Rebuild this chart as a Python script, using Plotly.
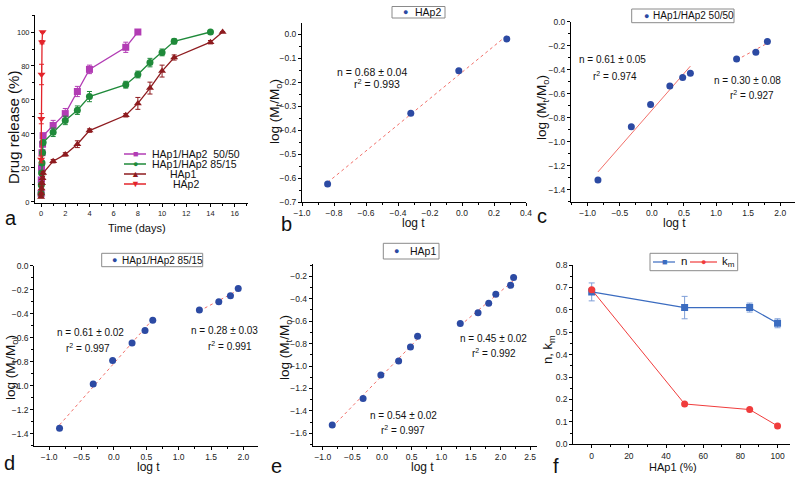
import numpy as np
import plotly.graph_objects as go

W, H = 800, 477

# ---------------- data ----------------
# panel a: drug release (%) vs time (days)
t_5050 = [0.006, 0.02, 0.04, 0.08, 0.125, 0.17, 1, 2, 3, 4, 7, 8]
r_5050 = [5, 13, 20, 29, 34, 39, 45, 52, 65, 78, 91, 100]
e_5050 = [1, 1, 1.5, 1.5, 1.5, 1.5, 3, 3, 3, 2.5, 3, 0]

t_8515 = [0.006, 0.02, 0.04, 0.08, 0.125, 0.17, 1, 2, 3, 4, 7, 8, 9, 10, 11, 14]
r_8515 = [5, 10, 17, 23, 29, 35, 41, 48, 54, 62, 69, 75, 82, 88, 94.5, 100]
e_8515 = [1, 1, 1, 1.5, 1.5, 1.5, 2.5, 2.5, 2.5, 3, 2, 2, 2.5, 2, 1.5, 0]

t_hap1 = [0.006, 0.02, 0.04, 0.08, 0.125, 0.17, 1, 2, 3, 4, 7, 8, 9, 10, 11, 14, 15]
r_hap1 = [3, 5, 8, 11, 14, 17, 24, 28, 34, 42, 51, 58, 67, 77, 85, 94, 100]
e_hap1 = [0.5, 0.5, 1, 1, 1, 1, 1, 1, 2, 1, 1, 3.5, 3.5, 3.5, 1.5, 1, 0]

t_hap2 = [0.006, 0.02, 0.04, 0.08, 0.125]
r_hap2 = [25, 49, 75, 94, 100]
e_hap2 = [2, 3, 6, 1, 0]

# panel b: HAp2
b_logt = [-0.84, -0.32, -0.02, 0.28]
b_logm = [-0.625, -0.33, -0.152, -0.02]

# panel c: HAp1/HAp2 50/50 (two regimes)
c_logt1 = [-0.84, -0.32, -0.02, 0.28, 0.48, 0.60]
c_logm1 = [-1.32, -0.875, -0.69, -0.535, -0.465, -0.43]
c_logt2 = [1.32, 1.62, 1.80]
c_logm2 = [-0.31, -0.255, -0.165]

# panel d: HAp1/HAp2 85/15
d_logt1 = [-0.84, -0.32, -0.02, 0.28, 0.48, 0.60]
d_logm1 = [-1.355, -0.985, -0.79, -0.645, -0.54, -0.455]
d_logt2 = [1.32, 1.62, 1.80, 1.92]
d_logm2 = [-0.37, -0.30, -0.25, -0.19]

# panel e: HAp1
e_logt1 = [-0.84, -0.32, -0.02, 0.28, 0.48, 0.60]
e_logm1 = [-1.525, -1.29, -1.08, -0.955, -0.83, -0.735]
e_logt2 = [1.32, 1.62, 1.80, 1.92, 2.17, 2.22]
e_logm2 = [-0.62, -0.525, -0.44, -0.36, -0.28, -0.21]

# panel f: n and km vs HAp1 content
f_hap1 = [0, 50, 85, 100]
f_n = [0.68, 0.61, 0.61, 0.54]
f_n_err = [0.04, 0.05, 0.02, 0.02]
f_km = [0.69, 0.18, 0.155, 0.082]

# ---------------- styling ----------------
FONT = "Liberation Sans, Arial, sans-serif"
C_5050 = "#b23cb4"
C_8515 = "#1f8a3a"
C_HAP1 = "#8e1b1f"
C_HAP2 = "#e3242b"
C_DOT = "#2c4aa3"
C_FIT = "#f2706a"
C_N = "#3b6cc0"
C_KM = "#f03c3c"


def px_dom_x(x0, x1):
    return [x0 / W, x1 / W]


def px_dom_y(ytop, ybot):
    return [1 - ybot / H, 1 - ytop / H]


def fit_line(x, y):
    k, b0 = np.polyfit(x, y, 1)
    xs = np.array([min(x), max(x)])
    return xs, k * xs + b0


fig = go.Figure()

# ---- panel a ----
for t, r, e, col, sym, name in [
    (t_5050, r_5050, e_5050, C_5050, "square", "HAp1/HAp2 50/50"),
    (t_8515, r_8515, e_8515, C_8515, "circle", "HAp1/HAp2 85/15"),
    (t_hap1, r_hap1, e_hap1, C_HAP1, "triangle-up", "HAp1"),
    (t_hap2, r_hap2, e_hap2, C_HAP2, "triangle-down", "HAp2"),
]:
    fig.add_trace(go.Scatter(
        x=t, y=r, mode="lines+markers", name=name, showlegend=False,
        line=dict(color=col, width=1.3),
        marker=dict(symbol=sym, size=7, color=col),
        error_y=dict(type="data", array=e, color=col, thickness=1, width=2.5),
        xaxis="x", yaxis="y"))

# ---- panels b-e ----
def add_korsmeyer(panel, segs, legend_name, solid_first=False):
    xa = "x" + str(panel)
    ya = "y" + str(panel)
    for i, (xs, ys) in enumerate(segs):
        fx, fy = fit_line(xs, ys)
        dash = "solid" if (solid_first and i == 0) else "dot"
        fig.add_trace(go.Scatter(
            x=fx, y=fy, mode="lines", showlegend=False, hoverinfo="skip",
            line=dict(color=C_FIT, width=1, dash=dash), xaxis=xa, yaxis=ya))
    allx = [v for s in segs for v in s[0]]
    ally = [v for s in segs for v in s[1]]
    fig.add_trace(go.Scatter(
        x=allx, y=ally, mode="markers", name=legend_name, showlegend=False,
        marker=dict(symbol="circle", size=7, color=C_DOT), xaxis=xa, yaxis=ya))

add_korsmeyer(2, [(b_logt, b_logm)], "HAp2")
add_korsmeyer(3, [(c_logt1, c_logm1), (c_logt2, c_logm2)], "HAp1/HAp2 50/50", solid_first=True)
add_korsmeyer(4, [(d_logt1, d_logm1), (d_logt2, d_logm2)], "HAp1/HAp2 85/15")
add_korsmeyer(5, [(e_logt1, e_logm1), (e_logt2, e_logm2)], "HAp1")

# ---- panel f ----
fig.add_trace(go.Scatter(
    x=f_hap1, y=f_n, mode="lines+markers", name="n", showlegend=False,
    line=dict(color=C_N, width=1.2), marker=dict(symbol="square", size=7, color=C_N),
    error_y=dict(type="data", array=f_n_err, color="#7f9fd8", thickness=1, width=3),
    xaxis="x6", yaxis="y6"))
fig.add_trace(go.Scatter(
    x=f_hap1, y=f_km, mode="lines+markers", name="k<sub>m</sub>", showlegend=False,
    line=dict(color=C_KM, width=1), marker=dict(symbol="circle", size=7, color=C_KM),
    xaxis="x6", yaxis="y6"))

# ---------------- axes ----------------
def ax(domain, rng, dtick, minor_dtick, anchor, tickfmt=None, fs=8.5):
    d = dict(domain=domain, range=rng, dtick=dtick, tick0=0, anchor=anchor,
             showline=True, linecolor="black", linewidth=1, mirror=False,
             ticks="outside", ticklen=3, tickwidth=1, tickcolor="black",
             showgrid=False, zeroline=False, automargin=False,
             tickfont=dict(family=FONT, size=fs, color="#222"),
             minor=dict(dtick=minor_dtick, tick0=0, ticks="outside", ticklen=2,
                        tickcolor="black", showgrid=False))
    if tickfmt:
        d["tickformat"] = tickfmt
    return d

lay = {}
lay["xaxis"] = ax(px_dom_x(35, 248), [-0.5, 17.1], 2, 1, "y", fs=7.5)
lay["yaxis"] = ax(px_dom_y(15, 203), [-0.6, 110], 20, 10, "x", fs=7.5)
lay["yaxis"]["tickvals"] = [0, 20, 40, 60, 80, 100]
lay["xaxis2"] = ax(px_dom_x(302, 526), [-1.0, 0.4], 0.2, 0.1, "y2", ".1f")
lay["yaxis2"] = ax(px_dom_y(23, 202), [-0.7, 0.047], 0.1, 0.05, "x2", ".1f")
lay["yaxis2"]["tickvals"] = [round(-0.1 * i, 1) for i in range(8)]
lay["xaxis3"] = ax(px_dom_x(571, 795), [-1.26, 2.23], 0.5, 0.25, "y3", ".1f")
lay["yaxis3"] = ax(px_dom_y(21.7, 201.7), [-1.5, 0.0], 0.2, 0.1, "x3", ".1f")
lay["xaxis4"] = ax(px_dom_x(34.3, 258.3), [-1.23, 2.23], 0.5, 0.25, "y4", ".1f")
lay["yaxis4"] = ax(px_dom_y(265.7, 445.7), [-1.5, 0.0], 0.2, 0.1, "x4", ".1f")
lay["xaxis5"] = ax(px_dom_x(312.7, 536.7), [-1.17, 2.61], 0.5, 0.25, "y5", ".1f")
lay["yaxis5"] = ax(px_dom_y(264.3, 445.7), [-1.71, -0.093], 0.2, 0.1, "x5", ".1f")
lay["xaxis6"] = ax(px_dom_x(573.3, 790), [-9.9, 106.7], 20, 10, "y6")
lay["yaxis6"] = ax(px_dom_y(265, 444.3), [0, 0.8], 0.1, 0.05, "x6", ".1f")

# ---------------- annotations / legends ----------------
ann = []
shapes = []


def txt(x, y, s, size=10, anchor="center", color="#111", angle=0):
    ann.append(dict(x=x / W, y=1 - y / H, xref="paper", yref="paper", text=s,
                    showarrow=False, xanchor=anchor, yanchor="middle",
                    textangle=angle,
                    font=dict(family=FONT, size=size, color=color)))


def hline(x0, x1, y, col, w=1.3):
    shapes.append(dict(type="line", xref="paper", yref="paper",
                       x0=x0 / W, x1=x1 / W, y0=1 - y / H, y1=1 - y / H,
                       line=dict(color=col, width=w)))


def box(x0, x1, y0, y1):
    shapes.append(dict(type="rect", xref="paper", yref="paper",
                       x0=x0 / W, x1=x1 / W, y0=1 - y1 / H, y1=1 - y0 / H,
                       line=dict(color="#8a8a8a", width=1), fillcolor="white",
                       layer="above"))


# axis titles
LOGM = "log (M<sub>t</sub>/M<sub>o</sub>)"
txt(13, 128, "Drug release (%)", 15, angle=-90)
txt(137, 228, "Time (days)", 11)
txt(276, 112, LOGM, 13.5, angle=-90)
txt(413, 223, "log t", 12)
txt(543, 108, LOGM, 13.5, angle=-90)
txt(674, 223, "log t", 12)
txt(11, 368, LOGM, 13.5, angle=-90)
txt(148, 467, "log t", 12)
txt(285, 348, LOGM, 13.5, angle=-90)
txt(422, 467, "log t", 12)
txt(548, 350, "n, k<sub>m</sub>", 13, angle=-90)
txt(673, 467, "HAp1 (%)", 11)

# panel letters
for letter, x, y in [("a", 3, 218), ("b", 279, 224), ("c", 535, 216),
                     ("d", 2, 463), ("e", 269, 466), ("f", 551, 466)]:
    txt(x, y, letter, size=20, anchor="left")

# fit statistics
txt(372, 72, "n = 0.68 ± 0.04", 10.5)
txt(377, 83, "r<sup>2</sup> = 0.993", 10.5)
txt(612, 60, "n = 0.61 ± 0.05", 10)
txt(615, 76, "r<sup>2</sup> = 0.974", 10)
txt(747, 80, "n = 0.30 ± 0.08", 10)
txt(752, 95, "r<sup>2</sup> = 0.927", 10)
txt(90, 332, "n = 0.61 ± 0.02", 10)
txt(88, 348, "r<sup>2</sup> = 0.997", 10)
txt(224, 330, "n = 0.28 ± 0.03", 10)
txt(230, 346, "r<sup>2</sup> = 0.991", 10)
txt(493, 338, "n = 0.45 ± 0.02", 10)
txt(494, 353, "r<sup>2</sup> = 0.992", 10)
txt(403, 415, "n = 0.54 ± 0.02", 10)
txt(403, 430, "r<sup>2</sup> = 0.997", 10)

# panel a legend
legend_a = [
    ("HAp1/HAp2  50/50", C_5050, "■", 150, 154),
    ("HAp1/HAp2 85/15", C_8515, "●", 150, 164),
    ("HAp1", C_HAP1, "▲", 168, 174),
    ("HAp2", C_HAP2, "▼", 171, 184),
]
for name, col, glyph, tx, ty in legend_a:
    hline(124, 146, ty, col, 1.5)
    txt(135, ty, glyph, 9, color=col)
    txt(tx, ty, name, 10.5, anchor="left")

# boxed legends of panels b-e
for (x0, x1, y0, y1, gx, tx, name, fs) in [
    (392, 445, 6.5, 18, 405, 413, "HAp2", 10.5),
    (631.7, 734, 9, 22.7, 646, 651, "HAp1/HAp2 50/50", 10),
    (101.7, 202.7, 253.3, 266.7, 114.3, 120, "HAp1/HAp2 85/15", 10),
    (383.3, 439, 243.3, 259, 396, 408, "HAp1", 10.5),
]:
    box(x0, x1, y0, y1)
    cy = (y0 + y1) / 2
    txt(gx, cy, "●", 9, color=C_DOT)
    txt(tx, cy, name, fs, anchor="left")

# panel f legend
box(650, 737.7, 253.3, 270.7)
hline(653, 675, 262, C_N, 1.2)
txt(664, 262, "■", 9, color=C_N)
txt(679, 261, "n", 11.5, anchor="left")
hline(690, 717, 262, C_KM, 1.2)
txt(703, 262, "●", 9, color=C_KM)
txt(720, 262, "k<sub>m</sub>", 11.5, anchor="left")

fig.update_layout(**lay)
fig.update_layout(
    width=W, height=H, margin=dict(l=0, r=0, t=0, b=0, autoexpand=False),
    paper_bgcolor="white", plot_bgcolor="white",
    font=dict(family=FONT, color="#111"),
    annotations=ann, shapes=shapes, showlegend=False)

fig.write_html("out.html", config={"displayModeBar": False},
               post_script="document.body.style.margin='0';document.body.style.padding='0';")
